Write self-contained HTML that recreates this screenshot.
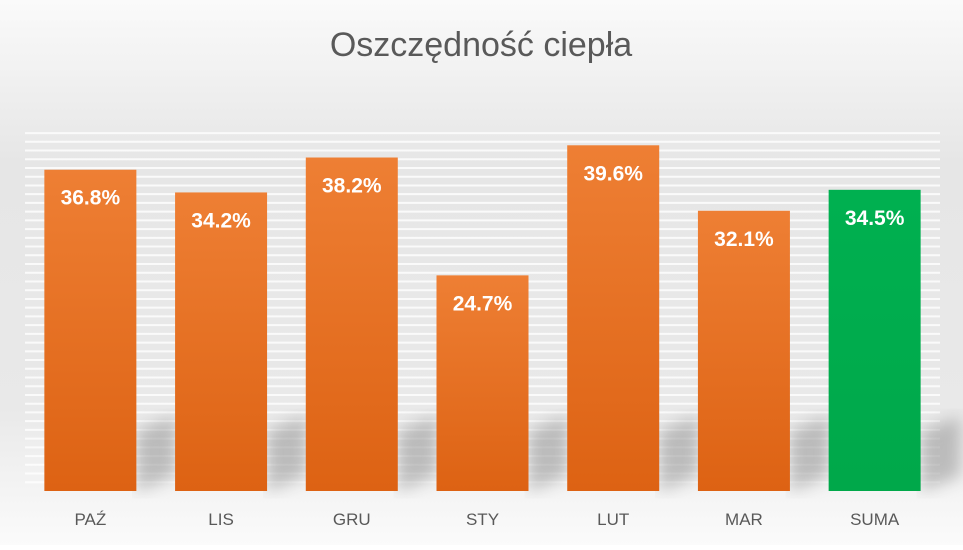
<!DOCTYPE html>
<html><head><meta charset="utf-8"><style>
body{margin:0;width:963px;height:545px;overflow:hidden;font-family:"Liberation Sans",sans-serif;}
</style></head><body>
<svg width="963" height="545" xmlns="http://www.w3.org/2000/svg">
<defs>
<linearGradient id="bg" x1="0" y1="0" x2="0" y2="1">
<stop offset="0" stop-color="#fafafa"/><stop offset="0.3" stop-color="#e6e6e6"/><stop offset="0.75" stop-color="#e9e9e9"/><stop offset="1" stop-color="#fbfbfb"/></linearGradient>
<linearGradient id="or" x1="0" y1="0" x2="0" y2="1"><stop offset="0" stop-color="#ee7f34"/><stop offset="1" stop-color="#dd6213"/></linearGradient>
<linearGradient id="gr" x1="0" y1="0" x2="0" y2="1"><stop offset="0" stop-color="#00b050"/><stop offset="1" stop-color="#00a84a"/></linearGradient>
<filter id="blur"><feGaussianBlur stdDeviation="8"/></filter>
</defs>
<rect width="963" height="545" fill="url(#bg)"/>
<text x="481" y="56" text-anchor="middle" font-size="34" fill="#595959">Oszczędność ciepła</text>
<g id="grid"></g><g id="shadows"></g><g id="bars"></g><g id="labels"></g>
</svg>
<script>
const categories=["PAŹ","LIS","GRU","STY","LUT","MAR","SUMA"];
const values=[36.8,34.2,38.2,24.7,39.6,32.1,34.5];
const valueLabels=["36.8%","34.2%","38.2%","24.7%","39.6%","32.1%","34.5%"];
const NS="http://www.w3.org/2000/svg";
const x0=25,x1=940,y0=491,pxPer=8.73,band=(x1-x0)/categories.length,bw=92;
const y=v=>y0-v*pxPer;
const xc=i=>x0+band*(i+0.5);
function mk(t,a,p){const e=document.createElementNS(NS,t);for(const k in a)e.setAttribute(k,a[k]);p.appendChild(e);return e;}
const grid=document.getElementById('grid');
for(let v=1;v<=41;v++){const l=mk('line',{x1:x0,x2:x1,y1:y(v),y2:y(v),stroke:'#ffffff','stroke-width':2,opacity:0.8},grid);

}
const sh=document.getElementById('shadows'),bars=document.getElementById('bars'),lab=document.getElementById('labels');
values.forEach((v,i)=>{
const cx=xc(i);
const s=mk('polygon',{points:`${cx+bw/2},${y0} ${cx+bw/2},${y0-60} ${cx+bw/2+40},${y0-75} ${cx+bw/2+40},${y0-15}`,fill:'#888',opacity:0.5,filter:'url(#blur)'},sh);


const r=mk('rect',{x:cx-bw/2,y:y(v),width:bw,height:y0-y(v),fill:i==categories.length-1?'url(#gr)':'url(#or)'},bars);


const t=mk('text',{x:cx,y:y(v)+35,'text-anchor':'middle','font-size':21,'font-weight':'bold',fill:'#fff'},lab);
t.textContent=valueLabels[i];


const c=mk('text',{x:cx,y:525,'text-anchor':'middle','font-size':17,fill:'#595959'},lab);
c.textContent=categories[i];


});
</script>
</body></html>
